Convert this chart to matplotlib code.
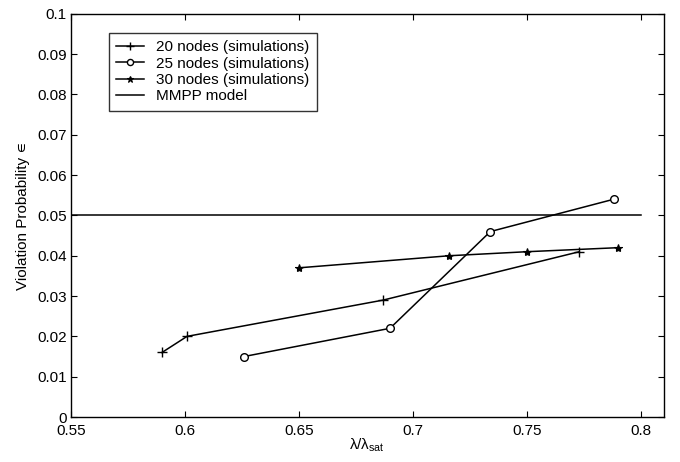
import matplotlib.pyplot as plt
import numpy as np

plt.rcParams['font.family'] = ['Liberation Sans', 'DejaVu Sans']
plt.rcParams['mathtext.fontset'] = 'custom'
plt.rcParams['mathtext.rm'] = 'Liberation Sans'
plt.rcParams['mathtext.it'] = 'Liberation Sans'

x20 = [0.590, 0.601, 0.687, 0.773]
y20 = [0.016, 0.020, 0.029, 0.041]
x25 = [0.626, 0.690, 0.734, 0.788]
y25 = [0.015, 0.022, 0.046, 0.054]
x30 = [0.650, 0.716, 0.750, 0.790]
y30 = [0.037, 0.040, 0.041, 0.042]
mmpp_x = [0.55, 0.80]
mmpp_y = [0.05, 0.05]
labels = ['20 nodes (simulations)', '25 nodes (simulations)',
          '30 nodes (simulations)', 'MMPP model']

fig = plt.figure(figsize=(6.8, 4.62), dpi=100)
ax = fig.add_axes([0.104, 0.0974, 0.872, 0.8726])

ax.plot(x20, y20, 'k-+', lw=1.1, ms=7, mew=1.0, label=labels[0])
ax.plot(x25, y25, 'k-o', lw=1.1, ms=5.5, mfc='white', mew=1.0, label=labels[1])
ax.plot(x30, y30, 'k-*', lw=1.1, ms=6, mew=0.8, label=labels[2])
ax.plot(mmpp_x, mmpp_y, 'k-', lw=1.1, label=labels[3])

ax.set_xlim(0.55, 0.81)
ax.set_ylim(0, 0.1)
ax.set_xticks(np.arange(0.55, 0.801, 0.05))
ax.set_xticklabels(['0.55', '0.6', '0.65', '0.7', '0.75', '0.8'])
ax.set_yticks(np.arange(0, 0.1001, 0.01))
ax.set_yticklabels(['0', '0.01', '0.02', '0.03', '0.04', '0.05', '0.06',
                    '0.07', '0.08', '0.09', '0.1'])
ax.tick_params(direction='in', top=True, right=True, labelsize=11, length=4, pad=3)
ax.tick_params(axis='x', pad=5)
for s in ax.spines.values():
    s.set_linewidth(1.0)

ax.set_xlabel(r'$\lambda/\lambda_{\rm sat}$', fontsize=11, labelpad=-1)
ax.set_ylabel('Violation Probability \u220a', fontsize=11, labelpad=5)

leg = ax.legend(loc='upper left', bbox_to_anchor=(0.064, 0.953), borderaxespad=0,
                fontsize=11, frameon=True, fancybox=False, edgecolor='black',
                handlelength=1.8, handletextpad=0.8, labelspacing=0.15,
                borderpad=0.5, markerscale=0.8)
leg.get_frame().set_linewidth(1.0)

fig.savefig('out.png', dpi=100)
